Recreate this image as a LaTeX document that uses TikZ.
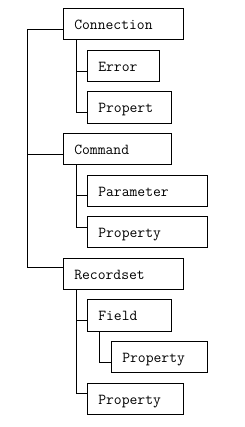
\documentclass[tikz,border=0pt]{standalone}
\begin{document}
\begin{tikzpicture}[x=1pt,y=-1pt,
  box/.style={draw,line width=0.9pt,inner xsep=11pt,inner ysep=0pt,
    text height=11pt,text depth=0pt,align=left,anchor=center,
    font=\ttfamily\fontsize{15.2}{18}\selectfont},
  conn/.style={line width=0.9pt}]
\useasboundingbox (0,0) rectangle (244,427);
\newcommand{\bx}[6]{\node[box,minimum width=#3pt,minimum height=#4pt,text width=#5pt] (#1) at (#2) {#6};}
\bx{cn}{123.3,23.8}{120}{31}{98}{Connection}
\bx{er}{123.3,66}{72}{30.6}{50}{Error}
\bx{p1}{129.3,107.3}{84}{32}{62}{Propert}
\bx{cm}{117.3,148.8}{108}{31}{86}{Command}
\bx{pa}{147.3,190.8}{120}{31}{98}{Parameter}
\bx{p2}{147.3,231.8}{120}{31}{98}{Property}
\bx{rs}{123.3,273.7}{120}{30.7}{98}{Recordset}
\bx{fd}{129.3,315.3}{84}{32}{62}{Field}
\bx{p3}{159.3,356.7}{96}{30.7}{74}{Property}
\bx{p4}{135.3,398.8}{96}{31}{74}{Property}
% main trunk
\coordinate (t1) at (27.3,29.3);
\coordinate (t2) at (27.3,154.3);
\coordinate (t3) at (27.3,267.7);
\draw[conn] (cn.west |- t1) -- (t1) -- (t3) -- (rs.west |- t3);
\draw[conn] (cm.west |- t2) -- (t2);
% Connection children
\coordinate (a1) at (76,71);
\coordinate (a2) at (76,112);
\draw[conn] (cn.south -| a1) -- (a2) -- (p1.west |- a2);
\draw[conn] (a1) -- (er.west |- a1);
% Command children
\coordinate (b1) at (76,195.3);
\coordinate (b2) at (76,227.3);
\draw[conn] (cm.south -| b1) -- (b2) -- (p2.west |- b2);
\draw[conn] (b1) -- (pa.west |- b1);
% Recordset children
\coordinate (c1) at (76,320.3);
\coordinate (c2) at (76,393.3);
\draw[conn] (rs.south -| c1) -- (c2) -- (p4.west |- c2);
\draw[conn] (c1) -- (fd.west |- c1);
% Field child
\coordinate (d1) at (99.3,362);
\draw[conn] (fd.south -| d1) -- (d1) -- (p3.west |- d1);
\end{tikzpicture}
\end{document}
